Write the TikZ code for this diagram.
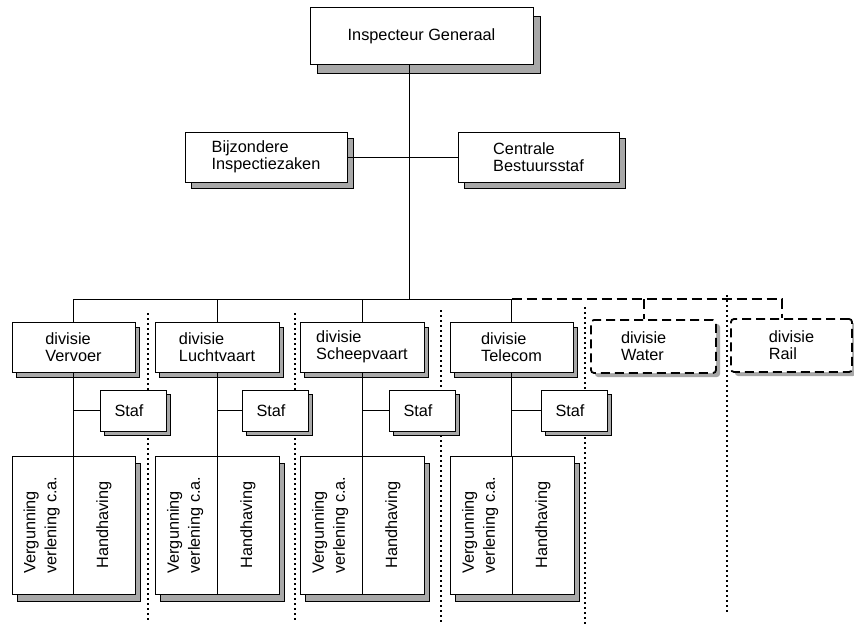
\documentclass[tikz,border=0pt]{standalone}
\usepackage{fontspec}
\setmainfont{Liberation Sans}
\usetikzlibrary{shadows}
\definecolor{shgray}{RGB}{168,168,168}
\begin{document}
\begin{tikzpicture}[x=1pt,y=-1pt,
  font=\fontsize{16.3}{17}\selectfont,
  every node/.style={inner sep=0pt, align=left},
  sz/.style 2 args={minimum width=#1, minimum height=#2},
  box/.style={draw, fill=white, line width=1pt},
  shd/.style 2 args={general shadow={shadow xshift=#1, shadow yshift=-#2, fill=shgray, draw=black, line width=1pt}},
  dbox/.style={draw, fill=white, line width=1.8pt, dash pattern=on 9pt off 5pt, rounded corners=3pt,
     general shadow={shadow xshift=4pt, shadow yshift=-4pt, fill=shgray, draw=none}},
  ln/.style={line width=1pt},
  dln/.style={line width=1.5pt, dash pattern=on 10pt off 5pt},
  dotl/.style={line width=2pt, dash pattern=on 2pt off 3pt},
  pshadow/.style={fill=shgray, draw=black, line width=1pt}
]
\useasboundingbox (0,0) rectangle (854,626);

% dotted separators (behind the boxes)
\coordinate (d1t) at (148,313); \coordinate (d1b) at (148,622);
\coordinate (d2t) at (295,313); \coordinate (d2b) at (295,622);
\coordinate (d3t) at (441,310); \coordinate (d3b) at (441,622);
\coordinate (d4t) at (585,307); \coordinate (d4b) at (585,625);
\coordinate (d5t) at (727,295); \coordinate (d5b) at (727,613);
\draw[dotl] (d1t) -- (d1b);
\draw[dotl] (d2t) -- (d2b);
\draw[dotl] (d3t) -- (d3b);
\draw[dotl] (d4t) -- (d4b);
\draw[dotl] (d5t) -- (d5b);

% top
\node[box, sz={223pt}{57pt}, shd={7pt}{9pt}] (ig) at (421.5,36.5) {Inspecteur Generaal};
\node[box, sz={162pt}{50pt}, shd={6pt}{6pt}] (bij) at (266,157) {Bijzondere\\Inspectiezaken};
\node[box, sz={161pt}{50pt}, shd={6pt}{6pt}] (cen) at (538.5,157) {Centrale\\Bestuursstaf};

% divisions
\node[box, sz={123pt}{50pt}, shd={4.5pt}{5pt}] (vv) at (73.5,347) {divisie\\Vervoer};
\node[box, sz={124pt}{50pt}, shd={4.5pt}{5pt}] (lv) at (217,347) {divisie\\Luchtvaart};
\node[box, sz={124pt}{50pt}, shd={4.5pt}{5pt}] (sv) at (362,347) {divisie\\Scheepvaart};
\node[box, sz={123pt}{50pt}, shd={4.5pt}{5pt}] (tc) at (511.5,347) {divisie\\Telecom};
\node[dbox, sz={125pt}{53pt}] (water) at (653.5,346.5) {\makebox[65pt][l]{divisie}\\Water};
\node[dbox, sz={121pt}{53pt}] (rail) at (791.5,345.5) {divisie\\Rail};

% staf
\node[box, sz={66pt}{41pt}, shd={4pt}{4pt}] (st1) at (133,410.5) {Staf\hspace*{8pt}};
\node[box, sz={66pt}{41pt}, shd={4pt}{4pt}] (st2) at (275,410.5) {Staf\hspace*{8pt}};
\node[box, sz={66pt}{41pt}, shd={4pt}{4pt}] (st3) at (422,410.5) {Staf\hspace*{8pt}};
\node[box, sz={66pt}{41pt}, shd={4pt}{4pt}] (st4) at (574,410.5) {Staf\hspace*{8pt}};

% pair shadows
\draw[pshadow] (17,463) rectangle (140,601);
\draw[pshadow] (160,463) rectangle (284,601);
\draw[pshadow] (305,463) rectangle (429,601);
\draw[pshadow] (455,463) rectangle (579,601);

% pairs
\newcommand\vgtext{\raisebox{0pt}{\rotatebox{90}{\begin{tabular}{@{}l@{}}Vergunning\\[4pt]verlening c.a.\end{tabular}}}}
\newcommand\hhtext{\rotatebox{90}{Handhaving}}
\node[box, sz={61pt}{138pt}] (vg1) at (42.5,525) {\vgtext};
\node[box, sz={62pt}{138pt}] (hh1) at (104,525) {\hhtext};
\node[box, sz={62pt}{138pt}] (vg2) at (186,525) {\vgtext};
\node[box, sz={62pt}{138pt}] (hh2) at (248,525) {\hhtext};
\node[box, sz={62pt}{138pt}] (vg3) at (331,525) {\vgtext};
\node[box, sz={62pt}{138pt}] (hh3) at (393,525) {\hhtext};
\node[box, sz={62pt}{138pt}] (vg4) at (481,525) {\vgtext};
\node[box, sz={62pt}{138pt}] (hh4) at (543,525) {\hhtext};

% connectors
\coordinate (j0) at (409,299);
\coordinate (jw) at (644,299);
\coordinate (jr) at (782,299);
\draw[ln] (ig.south -| j0) -- (j0);
\draw[ln] (bij.east) -- (cen.west);
\draw[ln] (vv.north) -- (vv.north |- j0) -- (tc.north |- j0) -- (tc.north);
\draw[ln] (lv.north) -- (lv.north |- j0);
\draw[ln] (sv.north) -- (sv.north |- j0);
\draw[dln] (tc.north |- j0) -- (jr) -- (jr |- rail.north);
\draw[dln] (jw) -- (jw |- water.north);

\foreach \d/\s/\v in {vv/st1/vg1, lv/st2/vg2, sv/st3/vg3, tc/st4/vg4}{
  \draw[ln] (\d.south) -- (\d.south |- \v.north);
  \draw[ln] (\d.south |- \s.west) -- (\s.west);
}
\end{tikzpicture}
\end{document}
